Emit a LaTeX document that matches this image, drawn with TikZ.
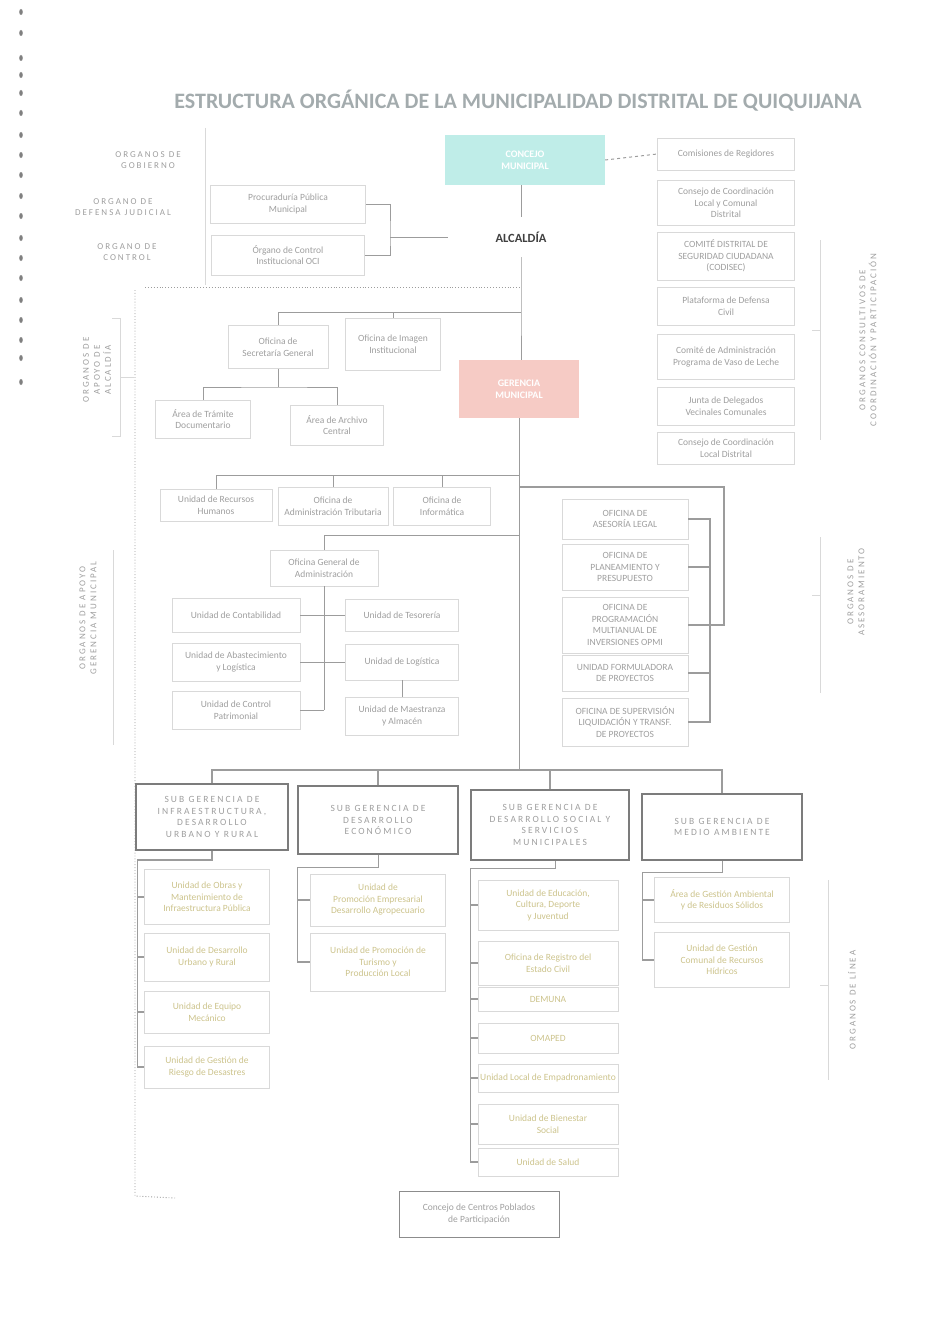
\documentclass[tikz,border=0pt]{standalone}
\usepackage{fontspec}
\setmainfont{Carlito}
\newfontfamily\spacedfont[LetterSpace=22]{Carlito}
\definecolor{txtgray}{HTML}{9E9E9E}
\definecolor{boxgray}{HTML}{D9D9D9}
\definecolor{linegray}{HTML}{9C9C9C}
\definecolor{sggray}{HTML}{7C7C7C}
\definecolor{olivetxt}{HTML}{CCC38C}
\definecolor{concejocyan}{HTML}{BFEDE8}
\definecolor{gerenciared}{HTML}{F6CBC5}
\definecolor{titlegray}{HTML}{A3ABAD}

\begin{document}
\begin{tikzpicture}[x=1pt,y=-1pt,
  box/.style={draw=boxgray,line width=0.6pt,align=center,text=txtgray,inner sep=2pt,font=\fontsize{9.5}{11.5}\selectfont},
  ybox/.style={box,text=olivetxt},
  sgbox/.style={draw=sggray,line width=1.6pt,align=center,text=txtgray,inner sep=2pt,font=\spacedfont\fontsize{9.5}{11.5}\selectfont},
  side/.style={text=txtgray,align=center,font=\spacedfont\fontsize{9}{11}\selectfont},
  link/.style={draw=linegray,line width=1pt},
  thinlink/.style={draw=boxgray,line width=0.6pt},
  dotlink/.style={draw=linegray,line width=0.9pt,dotted}]
\useasboundingbox (0,0) rectangle (937,1335);
\foreach \yy in {12,33,58,75,93,113,135,155,175,196,216,238,258,278,300,320,340,358,382}
  \fill[black!50] (21,\yy) ellipse (1.8pt and 3pt);

\node[text=titlegray,font=\bfseries\fontsize{22}{24}\selectfont] (title) at (518,101) {ESTRUCTURA ORGÁNICA DE LA MUNICIPALIDAD DISTRITAL DE QUIQUIJANA};

\node[side] (lblGob) at (148,160) {ORGANOS DE\\GOBIERNO};
\node[side] (lblDef) at (123,207) {ORGANO DE\\DEFENSA JUDICIAL};
\node[side] (lblCtl) at (127,252) {ORGANO DE\\CONTROL};
\draw[thinlink] (205,128) -- (205,285);

\node[fill=concejocyan,minimum width=160pt,minimum height=50pt,align=center,text=white,font=\bfseries\fontsize{10}{12}\selectfont] (concejo) at (525,160) {CONCEJO\\MUNICIPAL};
\node[minimum width=145pt,minimum height=40pt,text=black!75,font=\bfseries\fontsize{12.5}{14}\selectfont] (alcaldia) at (521,237) {ALCALDÍA};
\node[box,minimum width=155pt,minimum height=38pt] (proc) at (288,204) {Procuraduría Pública\\Municipal};
\node[box,minimum width=153pt,minimum height=40pt] (oci) at (288,255) {Órgano de Control\\Institucional OCI};
\coordinate (j1) at (390,237);
\draw[link] (alcaldia.north) -- (alcaldia.north |- concejo.south);
\draw[link] (proc.east) -| (j1) |- (oci.east);
\draw[link] (j1) -- (alcaldia.west);

\node[box,minimum width=137pt,minimum height=32pt] (r1) at (726,154) {Comisiones de Regidores};
\node[box,minimum width=137pt,minimum height=45pt] (r2) at (726,203) {Consejo de Coordinación\\Local y Comunal\\Distrital};
\node[box,minimum width=137pt,minimum height=48pt] (r3) at (726,256) {COMITÉ DISTRITAL DE\\SEGURIDAD CIUDADANA\\(CODISEC)};
\node[box,minimum width=137pt,minimum height=38pt] (r4) at (726,306) {Plataforma de Defensa\\Civil};
\node[box,minimum width=137pt,minimum height=45pt] (r5) at (726,357) {Comité de Administración\\Programa de Vaso de Leche};
\node[box,minimum width=137pt,minimum height=38pt] (r6) at (726,406) {Junta de Delegados\\Vecinales Comunales};
\node[box,minimum width=137pt,minimum height=32pt] (r7) at (726,448) {Consejo de Coordinación\\Local Distrital};
\draw[link,dashed] (concejo.east) -- (r1.west);
\draw[thinlink] (820,240) -- (820,440);
\draw[thinlink] (812,330) -- (820,330);
\node[side,rotate=90] (lblCoord) at (868,340) {ORGANOS CONSULTIVOS DE\\COORDINACIÓN Y PARTICIPACIÓN};

\draw[dotlink] (145,287) -- (521,287);
\draw[dotlink] (135,290) -- (135,1196) -- (175,1198);

\coordinate (a1) at (521,312);
\node[fill=gerenciared,minimum width=120pt,minimum height=58pt,align=center,text=white,font=\bfseries\fontsize{10}{12}\selectfont] (ger) at (519,389) {GERENCIA\\MUNICIPAL};
\draw[link] (alcaldia.south) -- (a1) -- (ger.north -| a1);
\node[box,minimum width=100pt,minimum height=43pt] (sec) at (278,347) {Oficina de\\Secretaría General};
\node[box,minimum width=95pt,minimum height=52pt] (ima) at (393,344) {Oficina de Imagen\\Institucional};
\draw[link] (sec.north) |- (a1);
\draw[link] (ima.north) -- (ima.north |- a1);
\node[box,minimum width=95pt,minimum height=38pt] (tram) at (203,419) {Área de Trámite\\Documentario};
\node[box,minimum width=93pt,minimum height=40pt] (arch) at (337,425) {Área de Archivo\\Central};
\coordinate (a3) at (278,387);
\draw[link] (sec.south) -- (a3);
\draw[link] (tram.north) |- (a3) -| (arch.north);
\node[side,rotate=90] (lblAlc) at (97,370) {ORGANOS DE\\APOYO DE\\ALCALDÍA};
\draw[thinlink] (112,318) -- (120,318) -- (120,436) -- (112,436);
\draw[thinlink] (120,377) -- (134,377);

\coordinate (g1) at (519,475);
\coordinate (g2) at (519,535);
\coordinate (g3) at (519,487);
\coordinate (g5) at (519,770);
\draw[link] (ger.south) -- (g5);
\node[box,minimum width=112pt,minimum height=32pt] (rrhh) at (216,505) {Unidad de Recursos\\Humanos};
\node[box,minimum width=110pt,minimum height=38pt] (atr) at (333,506) {Oficina de\\Administración Tributaria};
\node[box,minimum width=97pt,minimum height=38pt] (inf) at (442,506) {Oficina de\\Informática};
\draw[link] (g1) -| (rrhh.north);
\draw[link] (atr.north) -- (atr.north |- g1);
\draw[link] (inf.north) -- (inf.north |- g1);

\node[box,minimum width=108pt,minimum height=36pt] (adm) at (324,568) {Oficina General de\\Administración};
\draw[link] (g2) -| (adm.north);
\node[box,minimum width=128pt,minimum height=34pt] (cont) at (236,615) {Unidad de Contabilidad};
\node[box,minimum width=128pt,minimum height=38pt] (abas) at (236,662) {Unidad de Abastecimiento\\y Logística};
\node[box,minimum width=128pt,minimum height=38pt] (pat) at (236,710) {Unidad de Control\\Patrimonial};
\node[box,minimum width=113pt,minimum height=32pt] (tes) at (402,615) {Unidad de Tesorería};
\node[box,minimum width=113pt,minimum height=36pt] (log) at (402,662) {Unidad de Logística};
\node[box,minimum width=113pt,minimum height=38pt] (alm) at (402,716) {Unidad de Maestranza\\y Almacén};
\draw[link] (adm.south) -- (adm.south |- pat.east);
\draw[link] (pat.east) -- (adm.south |- pat.east);
\draw[link] (cont.east) -- (tes.west);
\draw[link] (abas.east) -- (log.west);
\draw[link] (log.south) -- (alm.north);
\node[side,rotate=90] (lblGer) at (88,618) {ORGANOS DE APOYO\\GERENCIA MUNICIPAL};
\draw[thinlink] (113,550) -- (113,745);

\node[box,minimum width=126pt,minimum height=40pt] (leg) at (625,519) {OFICINA DE\\ASESORÍA LEGAL};
\node[box,minimum width=126pt,minimum height=46pt] (ppto) at (625,567) {OFICINA DE\\PLANEAMIENTO Y\\PRESUPUESTO};
\node[box,minimum width=126pt,minimum height=56pt] (opmi) at (625,625) {OFICINA DE\\PROGRAMACIÓN\\MULTIANUAL DE\\INVERSIONES OPMI};
\node[box,minimum width=126pt,minimum height=36pt] (uf) at (625,673) {UNIDAD FORMULADORA\\DE PROYECTOS};
\node[box,minimum width=126pt,minimum height=48pt] (sup) at (625,722) {OFICINA DE SUPERVISIÓN\\LIQUIDACIÓN Y TRANSF.\\DE PROYECTOS};
\draw[link,line width=1.8pt] (leg.east) -- ++(22,0) |- (sup.east);
\draw[link,line width=1.8pt] (ppto.east) -- ++(22,0);
\draw[link,line width=1.8pt] (uf.east) -- ++(22,0);
\draw[link,line width=1.8pt] (g3) -| (724,625) -- (opmi.east);
\node[side,rotate=90] (lblAses) at (856,592) {ORGANOS DE\\ASESORAMIENTO};
\draw[thinlink] (820,537) -- (820,693);
\draw[thinlink] (812,595) -- (820,595);

\node[sgbox,minimum width=152pt,minimum height=66pt] (sg1) at (212,817) {SUB GERENCIA DE\\INFRAESTRUCTURA,\\DESARROLLO\\URBANO Y RURAL};
\node[sgbox,minimum width=160pt,minimum height=68pt] (sg2) at (378,820) {SUB GERENCIA DE\\DESARROLLO\\ECONÓMICO};
\node[sgbox,minimum width=158pt,minimum height=70pt] (sg3) at (550,825) {SUB GERENCIA DE\\DESARROLLO SOCIAL Y\\SERVICIOS\\MUNICIPALES};
\node[sgbox,minimum width=160pt,minimum height=66pt] (sg4) at (722,827) {SUB GERENCIA DE\\MEDIO AMBIENTE};
\draw[link,line width=1.4pt] (sg1.north) |- (g5) -| (sg4.north);
\draw[link,line width=1.4pt] (sg2.north) -- (sg2.north |- g5);
\draw[link,line width=1.4pt] (sg3.north) -- (sg3.north |- g5);

\node[ybox,minimum width=125pt,minimum height=55pt] (i1) at (207,897) {Unidad de Obras y\\Mantenimiento de\\Infraestructura Pública};
\node[ybox,minimum width=125pt,minimum height=48pt] (i2) at (207,957) {Unidad de Desarrollo\\Urbano y Rural};
\node[ybox,minimum width=125pt,minimum height=42pt] (i3) at (207,1012) {Unidad de Equipo\\Mecánico};
\node[ybox,minimum width=125pt,minimum height=42pt] (i4) at (207,1067) {Unidad de Gestión de\\Riesgo de Desastres};
\coordinate (c1) at (137,860);
\draw[link,line width=1.8pt] (sg1.south) |- (c1);
\draw[link] (c1) -- (c1 |- i4.west);
\foreach \n in {i1,i2,i3,i4}
  \draw[link,line width=1.8pt] (c1 |- \n.west) -- (\n.west);

\node[ybox,minimum width=135pt,minimum height=52pt] (e1) at (378,900) {Unidad de\\Promoción Empresarial\\Desarrollo Agropecuario};
\node[ybox,minimum width=135pt,minimum height=58pt] (e2) at (378,962) {Unidad de Promoción de\\Turismo y\\Producción Local};
\coordinate (c2) at (297,867);
\draw[link] (sg2.south) |- (c2);
\draw[link] (c2) -- (c2 |- e2.west);
\foreach \n in {e1,e2}
  \draw[link,line width=1.8pt] (c2 |- \n.west) -- (\n.west);

\node[ybox,minimum width=140pt,minimum height=50pt] (d1) at (548,905) {Unidad de Educación,\\Cultura, Deporte\\y Juventud};
\node[ybox,minimum width=140pt,minimum height=44pt] (d2) at (548,963) {Oficina de Registro del\\Estado Civil};
\node[ybox,minimum width=140pt,minimum height=24pt] (d3) at (548,999) {DEMUNA};
\node[ybox,minimum width=140pt,minimum height=30pt] (d4) at (548,1038) {OMAPED};
\node[ybox,minimum width=140pt,minimum height=28pt] (d5) at (548,1078) {Unidad Local de Empadronamiento};
\node[ybox,minimum width=140pt,minimum height=40pt] (d6) at (548,1124) {Unidad de Bienestar\\Social};
\node[ybox,minimum width=140pt,minimum height=28pt] (d7) at (548,1162) {Unidad de Salud};
\coordinate (c3) at (470,868);
\draw[link] (sg3.south -| 555,0) |- (c3);
\draw[link] (c3) -- (c3 |- d7.west);
\foreach \n in {d1,d2,d3,d4,d5,d6,d7}
  \draw[link,line width=1.8pt] (c3 |- \n.west) -- (\n.west);

\node[ybox,minimum width=135pt,minimum height=45pt] (m1) at (722,900) {Área de Gestión Ambiental\\y de Residuos Sólidos};
\node[ybox,minimum width=135pt,minimum height=55pt] (m2) at (722,960) {Unidad de Gestión\\Comunal de Recursos\\Hídricos};
\coordinate (c4) at (642,872);
\draw[link] (sg4.south) |- (c4);
\draw[link] (c4) -- (c4 |- m2.west);
\foreach \n in {m1,m2}
  \draw[link,line width=1.8pt] (c4 |- \n.west) -- (\n.west);
\node[side,rotate=90] (lblLinea) at (852,1000) {ORGANOS DE LÍNEA};
\draw[thinlink] (828,880) -- (828,1080);
\draw[thinlink] (820,985) -- (828,985);

\node[box,draw=black!45,minimum width=160pt,minimum height=46pt] (cp) at (479,1214) {Concejo de Centros Poblados\\de Participación};
\end{tikzpicture}
\end{document}
